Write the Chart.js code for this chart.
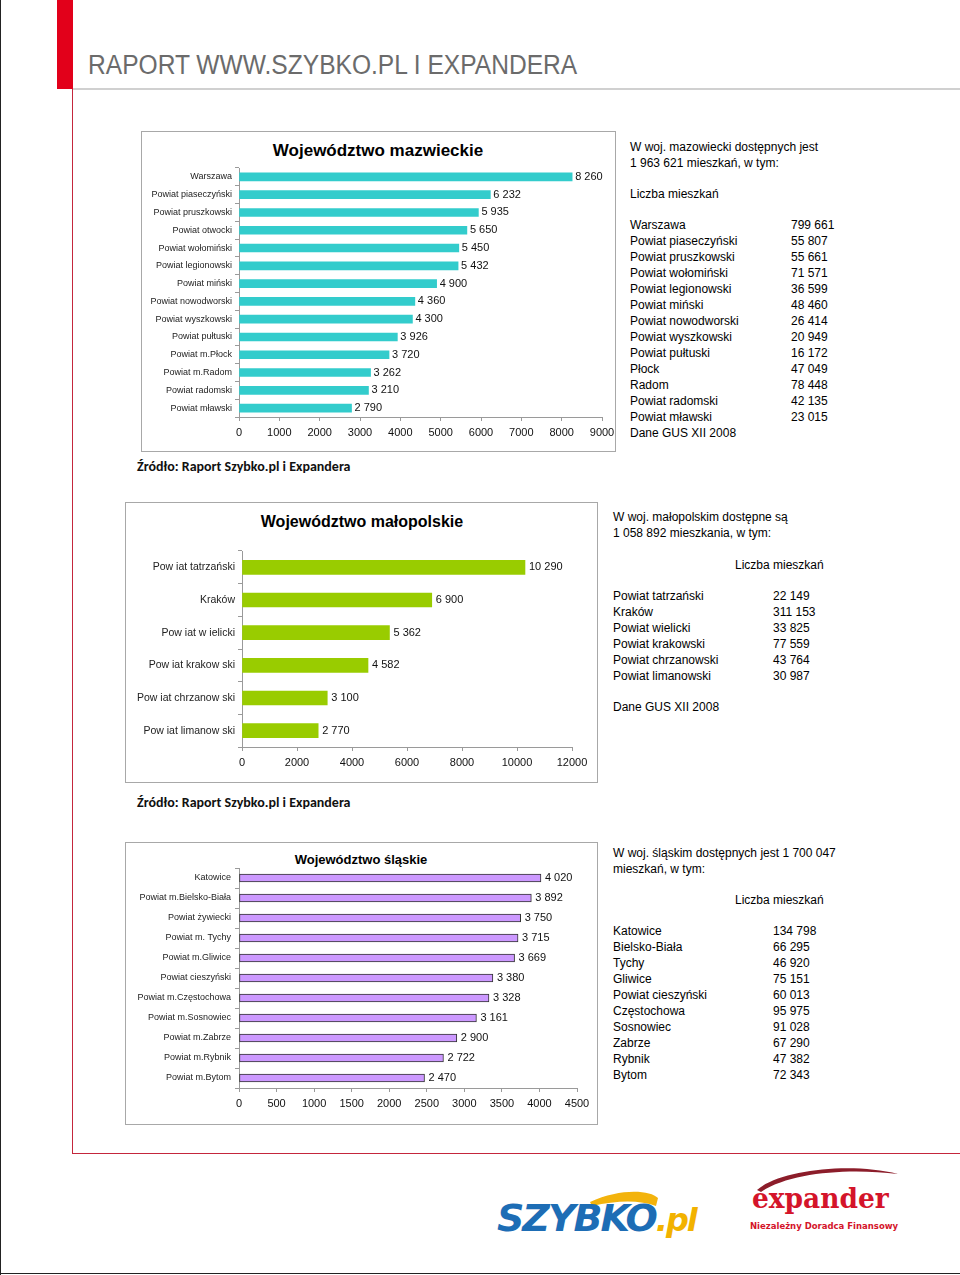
<!DOCTYPE html>
<html lang="pl">
<head>
<meta charset="utf-8">
<title>Raport Szybko.pl i Expandera</title>
<script src="https://cdn.jsdelivr.net/npm/chart.js@4/dist/chart.umd.min.js"></script>
<style>
  body { margin: 0; width: 960px; height: 1275px; position: relative; background: #fff; overflow: hidden;
         font-family: "Liberation Sans", Arial, sans-serif; }
  .box { position: absolute; border: 1px solid #a8a8a8; box-sizing: border-box; }
  .ttl { position: absolute; transform: translate(-50%, -50%); white-space: nowrap; color: #000; font-weight: bold; }
  .txt { position: absolute; font-size: 12px; line-height: 16px; color: #000; white-space: nowrap; }
  .src { position: absolute; font-family: Carlito, Lato, sans-serif; font-weight: bold; font-size: 14px; color: #111; white-space: nowrap; }
  canvas { position: absolute; }
</style>
</head>
<body>

<!-- page frame + header -->
<div style="position:absolute;left:0;top:0;width:1px;height:1275px;background:#222"></div>
<div style="position:absolute;left:0;top:1273px;width:960px;height:1px;background:#222"></div>
<div style="position:absolute;left:57px;top:0;width:16px;height:89px;background:#e2001a"></div>
<div style="position:absolute;left:73px;top:88px;width:887px;height:2px;background:#d0d0d0"></div>
<div style="position:absolute;left:72px;top:89px;width:1px;height:1064px;background:#c4263c"></div>
<div style="position:absolute;left:72px;top:1153px;width:888px;height:1px;background:#c4263c"></div>
<div style="position:absolute;left:88px;top:49px;font-size:27px;line-height:32px;color:#6b6b6b;white-space:nowrap;transform:scaleX(0.91);transform-origin:0 0">RAPORT WWW.SZYBKO.PL I EXPANDERA</div>

<!-- chart boxes -->
<div class="box" style="left:141px;top:131px;width:475px;height:321px"></div>
<div class="box" style="left:125px;top:502px;width:473px;height:281px"></div>
<div class="box" style="left:125px;top:842px;width:473px;height:283px"></div>

<div class="ttl" style="left:378px;top:151px;font-size:17px">Województwo mazwieckie</div>
<div class="ttl" style="left:362px;top:522px;font-size:16px">Województwo małopolskie</div>
<div class="ttl" style="left:361px;top:859px;font-size:13px">Województwo śląskie</div>

<canvas id="c1" width="474" height="320" style="left:141px;top:131px"></canvas>
<canvas id="c2" width="472" height="280" style="left:125px;top:502px"></canvas>
<canvas id="c3" width="472" height="282" style="left:125px;top:842px"></canvas>

<div class="src" style="left:137px;top:458px">Źródło: Raport Szybko.pl i Expandera</div>
<div class="src" style="left:137px;top:794px">Źródło: Raport Szybko.pl i Expandera</div>

<div id="side"></div>

<!-- logos -->
<svg style="position:absolute;left:480px;top:1160px" width="460" height="100">
  <path d="M110 42 C 140 28, 170 30, 178 38 L 176 46 C 160 40, 138 40, 112 46 Z" fill="#f3b30c"/>
  <path d="M277 30 C 300 10, 370 2, 418 14 C 370 8, 310 12, 281 32 Z" fill="#8c1d2a"/>
</svg>
<div style="position:absolute;left:497px;top:1196px;font-family:'DejaVu Sans',sans-serif;font-weight:bold;font-style:italic;font-size:38px;line-height:44px;letter-spacing:-2px;color:#1d6db5;white-space:nowrap">SZYBKO<span style="color:#f2b200;font-size:32px">.pl</span></div>
<div style="position:absolute;left:752px;top:1183px;font-family:'DejaVu Serif',serif;font-weight:bold;font-size:27px;line-height:32px;color:#d4142a;white-space:nowrap;transform:scaleX(0.98);transform-origin:0 0">expander</div>
<div style="position:absolute;left:750px;top:1220px;font-family:'DejaVu Sans',sans-serif;font-weight:bold;font-size:8.5px;line-height:12px;color:#d4142a;white-space:nowrap">Niezależny Doradca Finansowy</div>

<script>
// ---- data ----
const mazLabels = ["Warszawa", "Powiat piaseczyński", "Powiat pruszkowski", "Powiat otwocki",
  "Powiat wołomiński", "Powiat legionowski", "Powiat miński", "Powiat nowodworski",
  "Powiat wyszkowski", "Powiat pułtuski", "Powiat m.Płock", "Powiat m.Radom",
  "Powiat radomski", "Powiat mławski"];
const mazValues = [8260, 6232, 5935, 5650, 5450, 5432, 4900, 4360, 4300, 3926, 3720, 3262, 3210, 2790];

const malLabels = ["Pow iat tatrzański", "Kraków", "Pow iat w ielicki", "Pow iat krakow ski",
  "Pow iat chrzanow ski", "Pow iat limanow ski"];
const malValues = [10290, 6900, 5362, 4582, 3100, 2770];

const slaLabels = ["Katowice", "Powiat m.Bielsko-Biała", "Powiat żywiecki", "Powiat m. Tychy",
  "Powiat m.Gliwice", "Powiat cieszyński", "Powiat m.Częstochowa", "Powiat m.Sosnowiec",
  "Powiat m.Zabrze", "Powiat m.Rybnik", "Powiat m.Bytom"];
const slaValues = [4020, 3892, 3750, 3715, 3669, 3380, 3328, 3161, 2900, 2722, 2470];

// x axis ticks: [max, step]
const mazTicks = [9000, 1000];
const malTicks = [12000, 2000];
const slaTicks = [4500, 500];

// side tables (Liczba mieszkań)
const mazNames = ["Warszawa", "Powiat piaseczyński", "Powiat pruszkowski", "Powiat wołomiński",
  "Powiat legionowski", "Powiat miński", "Powiat nowodworski", "Powiat wyszkowski",
  "Powiat pułtuski", "Płock", "Radom", "Powiat radomski", "Powiat mławski"];
const mazFlats = ["799 661", "55 807", "55 661", "71 571", "36 599", "48 460", "26 414",
  "20 949", "16 172", "47 049", "78 448", "42 135", "23 015"];
const malNames = ["Powiat tatrzański", "Kraków", "Powiat wielicki", "Powiat krakowski",
  "Powiat chrzanowski", "Powiat limanowski"];
const malFlats = ["22 149", "311 153", "33 825", "77 559", "43 764", "30 987"];
const slaNames = ["Katowice", "Bielsko-Biała", "Tychy", "Gliwice", "Powiat cieszyński",
  "Częstochowa", "Sosnowiec", "Zabrze", "Rybnik", "Bytom"];
const slaFlats = ["134 798", "66 295", "46 920", "75 151", "60 013", "95 975", "91 028",
  "67 290", "47 382", "72 343"];

// ---- side texts ----
const side = document.getElementById("side");
function put(text, x, yc) {
  const d = document.createElement("div");
  d.className = "txt";
  d.style.left = x + "px";
  d.style.top = (yc - 8) + "px";
  d.textContent = text;
  side.appendChild(d);
}
function table(names, flats, x, vx, y0) {
  names.forEach((n, i) => { put(n, x, y0 + i * 16); put(flats[i], vx, y0 + i * 16); });
}

put("W woj. mazowiecki dostępnych jest", 630, 147);
put("1 963 621 mieszkań, w tym:", 630, 163);
put("Liczba mieszkań", 630, 194);
table(mazNames, mazFlats, 630, 791, 225);
put("Dane GUS XII 2008", 630, 433);

put("W woj. małopolskim dostępne są", 613, 517);
put("1 058 892 mieszkania, w tym:", 613, 533);
put("Liczba mieszkań", 735, 565);
table(malNames, malFlats, 613, 773, 596);
put("Dane GUS XII 2008", 613, 707);

put(" W woj. śląskim dostępnych jest 1 700 047", 613, 853);
put("mieszkań, w tym:", 613, 869);
put("Liczba mieszkań", 735, 900);
table(slaNames, slaFlats, 613, 773, 931);

// ---- charts ----
const fmt = v => String(v).replace(/\B(?=(\d{3})+(?!\d))/g, " ");

const barValues = {
  id: "barValues",
  afterDatasetsDraw(chart, args, opts) {
    const ctx = chart.ctx;
    const data = chart.data.datasets[0].data;
    ctx.save();
    ctx.font = opts.font;
    ctx.fillStyle = "#111";
    ctx.textAlign = "left";
    ctx.textBaseline = "middle";
    chart.getDatasetMeta(0).data.forEach((bar, i) => {
      ctx.fillText(fmt(data[i]), bar.x + opts.gap, bar.y);
    });
    ctx.restore();
  }
};

const FONT = "'Liberation Sans', Arial, sans-serif";

function barChart(id, labels, values, ticks, o) {
  new Chart(document.getElementById(id), {
    type: "bar",
    data: {
      labels: labels,
      datasets: [{
        data: values,
        backgroundColor: o.color,
        borderColor: o.border || o.color,
        borderWidth: o.border ? 1 : 0,
        borderSkipped: false,
        barThickness: o.thick
      }]
    },
    options: {
      indexAxis: "y",
      responsive: false,
      animation: false,
      layout: { padding: { left: 0, top: o.top, right: o.right, bottom: 0 } },
      plugins: {
        legend: { display: false },
        tooltip: { enabled: false },
        barValues: { font: "11px " + FONT, gap: o.gap }
      },
      scales: {
        x: {
          min: 0, max: ticks[0],
          ticks: { stepSize: ticks[1], color: "#111", padding: 5, font: { family: FONT, size: 11 },
                   callback: v => String(v) },
          grid: { drawOnChartArea: false, tickLength: 4, color: "#9a9a9a" },
          border: { color: "#9a9a9a" },
          afterFit: s => { s.height = o.bottom; s.paddingRight = 0; s.paddingLeft = 0; }
        },
        y: {
          ticks: { color: "#222", padding: o.lpad, autoSkip: false, font: { family: FONT, size: o.lsize } },
          grid: { drawOnChartArea: false, tickLength: 4, color: "#9a9a9a" },
          border: { color: "#9a9a9a" },
          afterFit: s => { s.width = o.left; }
        }
      }
    },
    plugins: [barValues]
  });
}

barChart("c1", mazLabels, mazValues, mazTicks,
  { color: "#33cccc", thick: 8, left: 98, top: 37, right: 13, bottom: 34, lpad: 3, lsize: 9, gap: 3 });
barChart("c2", malLabels, malValues, malTicks,
  { color: "#99cc00", thick: 14, left: 117, top: 49, right: 25, bottom: 35, lpad: 3, lsize: 10.5, gap: 4 });
barChart("c3", slaLabels, slaValues, slaTicks,
  { color: "#cc99ff", border: "#333", thick: 8, left: 114, top: 26, right: 20, bottom: 36, lpad: 4, lsize: 9, gap: 4 });
</script>
</body>
</html>
